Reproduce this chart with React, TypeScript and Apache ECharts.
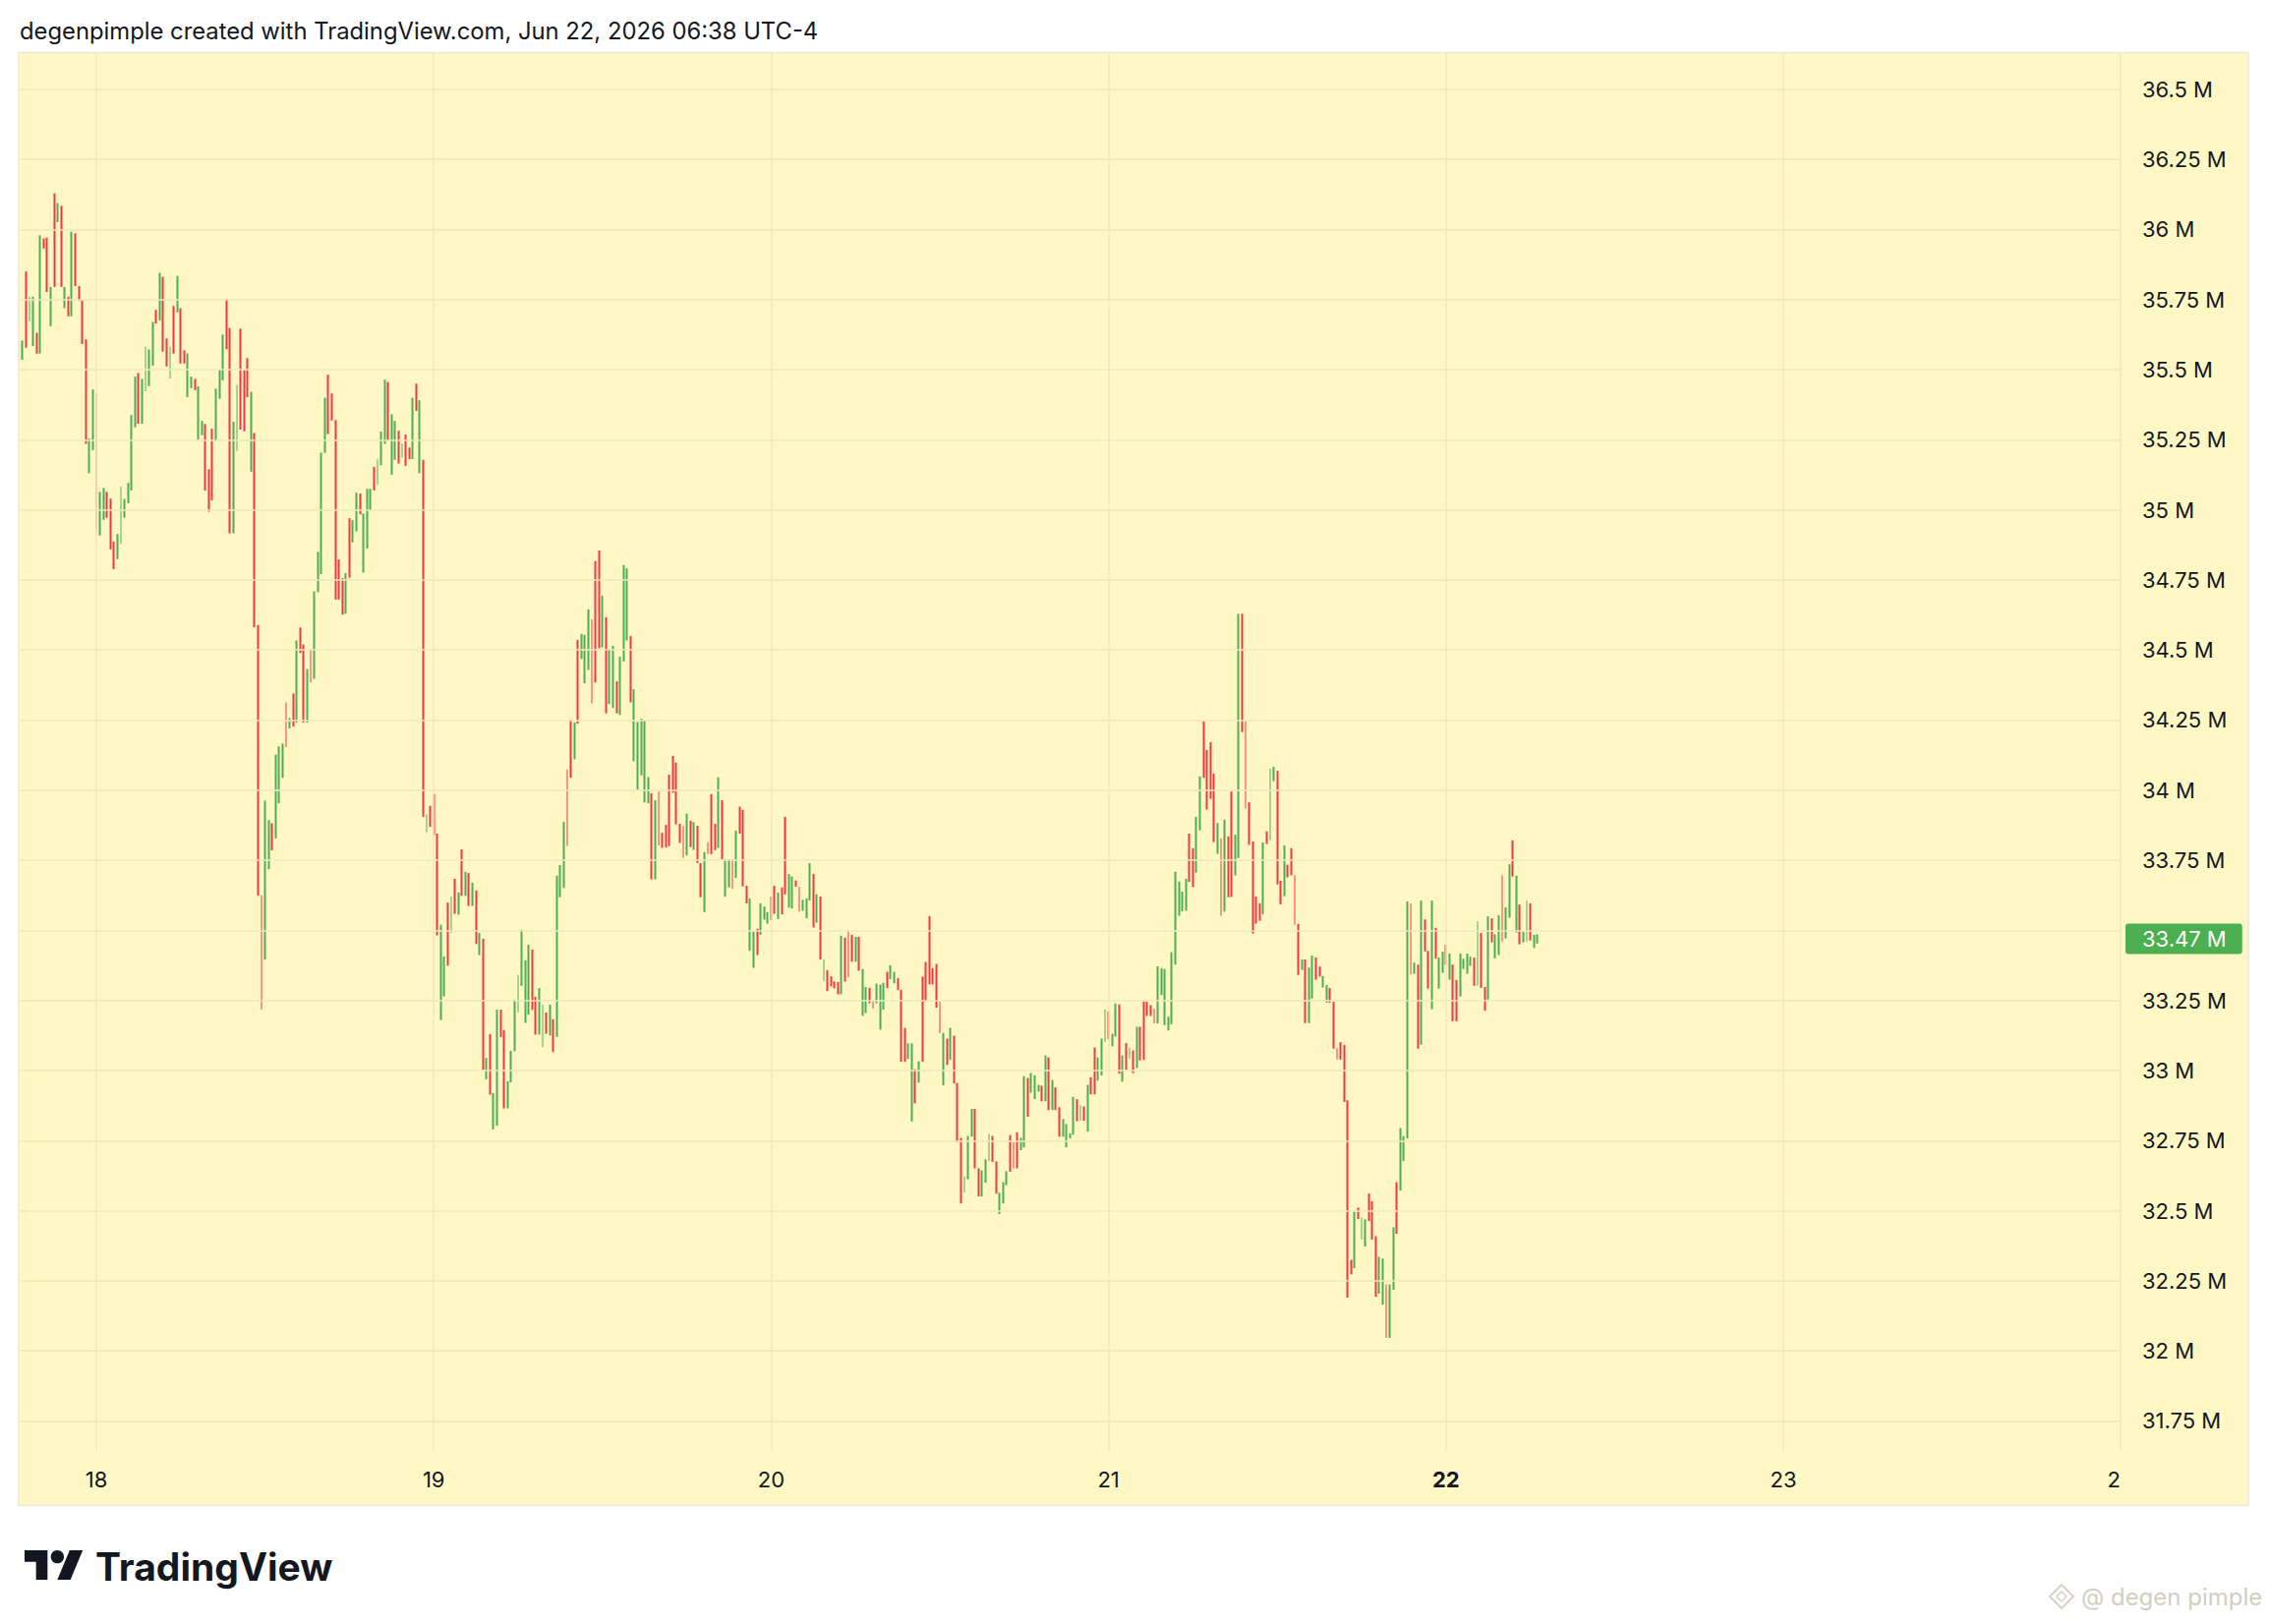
import React, { useEffect, useRef } from "react";
import * as echarts from "echarts";

// 15-minute bars, first bar at Jun 17 18:45 (UTC-4). Values in millions.
const firstBarMinuteOfDay = 18 * 60 + 45;
const barMinutes = 15;

const highs = [
  35.604, 35.850, 35.760, 35.760, 35.631, 35.979, 35.968, 35.971, 35.795, 36.129,
  36.094, 36.084, 35.795, 35.760, 35.992, 35.986, 35.798, 35.748, 35.608, 35.254,
  35.429, 35.418, 35.064, 35.078, 35.064, 35.040, 34.887, 34.914, 35.083, 35.039,
  35.096, 35.338, 35.475, 35.488, 35.467, 35.582, 35.572, 35.670, 35.713, 35.845,
  35.831, 35.611, 35.582, 35.727, 35.834, 35.719, 35.569, 35.558, 35.475, 35.467,
  35.440, 35.317, 35.306, 35.145, 35.289, 35.432, 35.499, 35.625, 35.751, 35.649,
  35.314, 35.446, 35.646, 35.499, 35.541, 35.421, 35.274, 34.589, 33.626, 33.963,
  33.893, 33.882, 34.127, 34.156, 34.166, 34.313, 34.257, 34.345, 34.534, 34.580,
  34.520, 34.432, 34.502, 34.709, 34.850, 35.204, 35.400, 35.482, 35.415, 35.320,
  34.823, 34.756, 34.774, 34.970, 34.963, 35.061, 35.058, 34.987, 35.075, 35.075,
  35.153, 35.180, 35.279, 35.464, 35.456, 35.341, 35.317, 35.282, 35.236, 35.268,
  35.222, 35.400, 35.450, 35.391, 35.178, 33.913, 33.944, 33.986, 33.845, 33.520,
  33.407, 33.599, 33.621, 33.684, 33.635, 33.789, 33.709, 33.704, 33.670, 33.642,
  33.491, 33.470, 33.045, 33.130, 32.920, 33.217, 33.217, 33.144, 32.962, 33.070,
  33.253, 33.341, 33.502, 33.393, 33.449, 33.432, 33.263, 33.294, 33.235, 33.207,
  33.235, 33.183, 33.695, 33.733, 33.887, 34.074, 34.251, 34.241, 34.536, 34.557,
  34.554, 34.645, 34.609, 34.817, 34.855, 34.694, 34.617, 34.503, 34.515, 34.388,
  34.476, 34.803, 34.792, 34.550, 34.360, 34.243, 34.255, 34.249, 34.047, 33.989,
  33.964, 33.995, 33.848, 33.876, 34.055, 34.122, 34.099, 33.880, 33.872, 33.916,
  33.891, 33.886, 33.873, 33.740, 33.779, 33.814, 33.986, 33.880, 34.046, 33.964,
  33.754, 33.754, 33.754, 33.856, 33.941, 33.930, 33.659, 33.614, 33.495, 33.506,
  33.596, 33.585, 33.565, 33.621, 33.659, 33.635, 33.653, 33.905, 33.701, 33.692,
  33.678, 33.656, 33.609, 33.614, 33.740, 33.701, 33.629, 33.621, 33.396, 33.358,
  33.336, 33.318, 33.316, 33.481, 33.474, 33.501, 33.484, 33.477, 33.477, 33.362,
  33.298, 33.295, 33.250, 33.310, 33.306, 33.313, 33.352, 33.375, 33.352, 33.330,
  33.288, 33.152, 33.097, 33.097, 33.005, 33.033, 33.335, 33.387, 33.551, 33.365,
  33.380, 33.246, 33.134, 33.114, 33.152, 33.124, 32.956, 32.760, 32.623, 32.767,
  32.863, 32.863, 32.651, 32.644, 32.683, 32.774, 32.767, 32.676, 32.564, 32.602,
  32.641, 32.770, 32.745, 32.780, 32.760, 32.980, 32.973, 32.991, 32.983, 32.949,
  32.946, 33.054, 33.047, 32.966, 32.940, 32.869, 32.827, 32.809, 32.776, 32.906,
  32.898, 32.876, 32.872, 32.949, 32.976, 33.082, 33.047, 33.114, 33.218, 33.211,
  33.131, 33.239, 33.236, 33.054, 33.098, 33.082, 33.072, 33.156, 33.156, 33.246,
  33.245, 33.233, 33.221, 33.372, 33.365, 33.362, 33.192, 33.422, 33.709, 33.674,
  33.638, 33.684, 33.845, 33.793, 33.905, 34.049, 34.245, 34.143, 34.171, 34.059,
  33.883, 33.828, 33.895, 33.835, 33.995, 33.841, 34.629, 34.629, 34.247, 33.957,
  33.817, 33.621, 33.596, 33.814, 33.853, 34.076, 34.083, 34.069, 33.677, 33.803,
  33.734, 33.793, 33.697, 33.523, 33.396, 33.396, 33.367, 33.410, 33.403, 33.371,
  33.337, 33.305, 33.294, 33.245, 33.080, 33.101, 33.091, 32.894, 32.325, 32.497,
  32.511, 32.476, 32.469, 32.561, 32.534, 32.409, 32.336, 32.329, 32.237, 32.237,
  32.441, 32.602, 32.795, 32.766, 33.603, 33.596, 33.385, 33.378, 33.606, 33.539,
  33.427, 33.606, 33.509, 33.403, 33.424, 33.449, 33.417, 33.378, 33.323, 33.417,
  33.399, 33.417, 33.406, 33.403, 33.532, 33.491, 33.298, 33.550, 33.543, 33.486,
  33.554, 33.697, 33.582, 33.736, 33.821, 33.695, 33.592, 33.495, 33.606, 33.596,
  33.484, 33.486,
];

const lows = [
  35.535, 35.578, 35.672, 35.584, 35.557, 35.557, 35.932, 35.777, 35.655, 35.795,
  36.026, 35.795, 35.719, 35.690, 35.690, 35.798, 35.745, 35.591, 35.235, 35.130,
  35.213, 34.923, 34.908, 34.964, 34.972, 34.859, 34.788, 34.824, 34.878, 34.972,
  35.023, 35.069, 35.294, 35.307, 35.307, 35.423, 35.441, 35.514, 35.664, 35.675,
  35.564, 35.511, 35.468, 35.557, 35.704, 35.522, 35.522, 35.402, 35.434, 35.427,
  35.248, 35.266, 35.069, 34.993, 35.034, 35.245, 35.396, 35.462, 35.573, 34.916,
  34.916, 35.210, 35.286, 35.280, 35.402, 35.136, 34.581, 33.624, 33.217, 33.396,
  33.718, 33.785, 33.828, 33.953, 34.044, 34.153, 34.220, 34.227, 34.241, 34.489,
  34.241, 34.241, 34.385, 34.397, 34.706, 34.771, 35.203, 35.270, 35.318, 34.680,
  34.680, 34.626, 34.629, 34.758, 34.884, 34.923, 34.984, 34.776, 34.862, 34.999,
  35.069, 35.089, 35.159, 35.235, 35.248, 35.125, 35.178, 35.165, 35.186, 35.157,
  35.181, 35.181, 35.353, 35.130, 33.905, 33.850, 33.869, 33.840, 33.482, 33.180,
  33.264, 33.374, 33.490, 33.559, 33.556, 33.623, 33.623, 33.587, 33.587, 33.451,
  33.412, 33.001, 32.969, 32.914, 32.790, 32.803, 33.119, 32.865, 32.865, 32.958,
  33.069, 33.208, 33.302, 33.170, 33.199, 33.216, 33.128, 33.128, 33.083, 33.131,
  33.125, 33.066, 33.120, 33.618, 33.651, 33.801, 34.044, 34.110, 34.237, 34.468,
  34.381, 34.429, 34.310, 34.384, 34.506, 34.509, 34.274, 34.307, 34.293, 34.274,
  34.268, 34.459, 34.534, 34.313, 34.103, 34.002, 34.053, 33.956, 33.953, 33.682,
  33.682, 33.803, 33.794, 33.795, 33.800, 33.991, 33.878, 33.812, 33.758, 33.767,
  33.797, 33.787, 33.740, 33.618, 33.565, 33.772, 33.772, 33.786, 33.794, 33.754,
  33.620, 33.653, 33.648, 33.687, 33.845, 33.657, 33.596, 33.427, 33.366, 33.412,
  33.484, 33.538, 33.524, 33.537, 33.559, 33.540, 33.557, 33.628, 33.581, 33.578,
  33.656, 33.567, 33.570, 33.543, 33.607, 33.510, 33.527, 33.396, 33.318, 33.283,
  33.300, 33.293, 33.272, 33.272, 33.317, 33.332, 33.388, 33.388, 33.356, 33.195,
  33.205, 33.240, 33.221, 33.240, 33.146, 33.217, 33.294, 33.326, 33.311, 33.287,
  33.031, 33.031, 33.041, 32.818, 32.883, 32.957, 33.031, 33.245, 33.307, 33.307,
  33.224, 33.133, 32.947, 33.020, 33.038, 32.954, 32.744, 32.526, 32.565, 32.612,
  32.764, 32.651, 32.551, 32.551, 32.600, 32.677, 32.674, 32.561, 32.488, 32.526,
  32.591, 32.639, 32.651, 32.651, 32.716, 32.725, 32.835, 32.921, 32.898, 32.925,
  32.890, 32.890, 32.859, 32.859, 32.859, 32.764, 32.764, 32.726, 32.758, 32.771,
  32.819, 32.821, 32.821, 32.782, 32.915, 32.915, 32.964, 32.983, 33.102, 33.111,
  33.086, 33.121, 32.989, 32.960, 33.002, 33.043, 32.991, 33.009, 33.036, 33.038,
  33.195, 33.195, 33.168, 33.168, 33.269, 33.162, 33.143, 33.165, 33.378, 33.552,
  33.568, 33.570, 33.673, 33.654, 33.706, 33.857, 34.044, 33.931, 33.969, 33.815,
  33.773, 33.552, 33.567, 33.618, 33.619, 33.696, 33.758, 34.207, 33.934, 33.805,
  33.489, 33.524, 33.534, 33.557, 33.808, 33.821, 34.032, 33.664, 33.593, 33.622,
  33.689, 33.696, 33.520, 33.341, 33.359, 33.169, 33.169, 33.257, 33.324, 33.335,
  33.296, 33.242, 33.242, 33.078, 33.039, 33.039, 32.888, 32.190, 32.273, 32.295,
  32.470, 32.397, 32.372, 32.463, 32.397, 32.193, 32.204, 32.165, 32.046, 32.046,
  32.218, 32.418, 32.572, 32.677, 32.758, 33.343, 33.345, 33.078, 33.092, 33.425,
  33.292, 33.219, 33.400, 33.292, 33.348, 33.377, 33.324, 33.176, 33.176, 33.264,
  33.362, 33.345, 33.373, 33.302, 33.302, 33.295, 33.214, 33.253, 33.457, 33.400,
  33.412, 33.460, 33.471, 33.545, 33.692, 33.492, 33.450, 33.457, 33.460, 33.464,
  33.437, 33.453,
];

// u = up bar (green), d = down bar (red)
const directions = [
  "uduududdud", "udududdddu", "uduuddduuu", "uuuduuuudu", "ddududduud",
  "uuddduuudd", "uudddudddu", "uduuududud", "duduuuuddd", "dduduuduuu",
  "duuuduudud", "dudududddu", "ududududud", "ududuudduu", "uuuuudduud",
  "uduuuddudu", "uuddduduud", "uuuduuuuud", "uddddddddu", "duddudddud",
  "uududdduud", "uuuddudduu", "dduuududud", "dddudddudu", "udduuuduud",
  "dduududddd", "ddududdduu", "udduuudduu", "uddduuduuu", "dududduuuu",
  "dududduuud", "uududududd", "ddduuuuuuu", "uudduudddd", "ududduuddd",
  "ddduduuddu", "dddduduudd", "uudddddddu", "duuddduudu", "uduuududud",
  "duduududdu", "uuududdudu", "uduududuud", "uu",
].join("");

// time-axis tick labels as shown (the last one, "24", is cut by the price scale)
const dayTickLabels = ["18", "19", "20", "21", "22", "23", "2"];
const boldDayLabel = "22";
const priceTicks = [
  31.75, 32, 32.25, 32.5, 32.75, 33, 33.25, 33.5, 33.75, 34,
  34.25, 34.5, 34.75, 35, 35.25, 35.5, 35.75, 36, 36.25, 36.5,
];
const lastPrice = 33.47;
const titleText = "degenpimple created with TradingView.com, Jun 22, 2026 06:38 UTC-4";
const watermarkText = "@ degen pimple";

const GREEN = "#4caf50";
const RED = "#f23645";
const BG = "#fff8c5";
const GRIDC = "#efe8bb";
const TEXT = "#131722";
const FONT = "Inter, 'Noto Sans', sans-serif";

export default function App() {
  const ref = useRef<HTMLDivElement>(null);

  useEffect(() => {
    const el = ref.current;
    if (!el) return;
    const chart = echarts.init(el, null, { renderer: "svg" });

    const plotLeft = 20;
    const plotTop = 54;
    const plotRight = 2158;
    const plotBottom = 1476;

    const candles = highs.map((h, i) => {
      const l = lows[i];
      const up = directions[i] === "u";
      return [i, up ? l : h, up ? h : l, l, h];
    });

    const barsPerDay = (24 * 60) / barMinutes;
    const firstDayIndex = (24 * 60 - firstBarMinuteOfDay) / barMinutes;

    // TradingView hides the scale labels that the last-price badge covers
    const priceLines = priceTicks.map((v) => ({
      yAxis: v,
      label: {
        show: Math.abs(v - lastPrice) > 0.1,
        position: "end",
        distance: 21,
        formatter: `${v} M`,
        color: TEXT,
        fontFamily: FONT,
        fontSize: 22,
      },
    }));

    const dayLines = dayTickLabels.map((d, k) => ({
      xAxis: firstDayIndex + k * barsPerDay,
      label: {
        position: "start",
        distance: 18,
        formatter: d,
        color: TEXT,
        fontFamily: FONT,
        fontSize: 22,
        fontWeight: d === boldDayLabel ? "bold" : "normal",
        offset: k === dayTickLabels.length - 1 ? [-7, 0] : [0, 0],
      },
    }));

    chart.setOption({
      animation: false,
      backgroundColor: "#ffffff",
      grid: {
        left: plotLeft,
        top: plotTop,
        width: plotRight - plotLeft,
        height: plotBottom - plotTop,
        containLabel: false,
      },
      xAxis: {
        type: "value",
        min: -0.81,
        max: 597.23,
        show: false,
      },
      yAxis: {
        type: "value",
        min: 31.643,
        max: 36.629,
        position: "right",
        show: false,
        scale: true,
      },
      graphic: [
        {
          type: "rect",
          z: -10,
          silent: true,
          shape: { x: 19, y: 53.5, width: 2268, height: 1478 },
          style: { fill: BG, stroke: "#ebe8da", lineWidth: 1.5 },
        },
        {
          type: "text",
          x: 20,
          y: 31,
          silent: true,
          style: {
            text: titleText,
            fill: TEXT,
            fontFamily: FONT,
            fontSize: 23.8,
            align: "left",
            verticalAlign: "middle",
          },
        },
        {
          type: "group",
          x: 25,
          y: 1570.3,
          scaleX: 1.667,
          scaleY: 1.667,
          silent: true,
          children: [
            {
              type: "polygon",
              shape: { points: [[0, 4], [14, 4], [14, 22], [7, 22], [7, 11], [0, 11]] },
              style: { fill: TEXT },
            },
            {
              type: "polygon",
              shape: { points: [[20, 22], [28, 22], [35.5, 4], [27.5, 4]] },
              style: { fill: TEXT },
            },
            {
              type: "circle",
              shape: { cx: 20, cy: 8, r: 4 },
              style: { fill: TEXT },
            },
          ],
        },
        {
          type: "text",
          x: 97,
          y: 1593,
          silent: true,
          style: {
            text: "TradingView",
            fill: TEXT,
            fontFamily: FONT,
            fontSize: 39,
            fontWeight: 700,
            align: "left",
            verticalAlign: "middle",
          },
        },
        {
          type: "group",
          x: 2097,
          y: 1624,
          silent: true,
          children: [
            {
              type: "polygon",
              shape: { points: [[0, -12], [12, 0], [0, 12], [-12, 0]] },
              style: { fill: "none", stroke: "#d6d3c3", lineWidth: 2 },
            },
            {
              type: "polygon",
              shape: { points: [[0, -5], [5, 0], [0, 5], [-5, 0]] },
              style: { fill: "none", stroke: "#d6d3c3", lineWidth: 1.5 },
            },
          ],
        },
        {
          type: "text",
          x: 2117,
          y: 1624,
          silent: true,
          style: {
            text: watermarkText,
            fill: "#d2cfbf",
            fontFamily: FONT,
            fontSize: 24,
            align: "left",
            verticalAlign: "middle",
          },
        },
      ],
      series: [
        {
          type: "line",
          data: [],
          z: 1,
          silent: true,
          showSymbol: false,
          markLine: {
            silent: true,
            animation: false,
            symbol: ["none", "none"],
            lineStyle: { color: GRIDC, width: 1.5, type: "solid" },
            emphasis: { disabled: true },
            data: [...priceLines, ...dayLines],
          },
        },
        {
          type: "candlestick",
          data: candles,
          z: 3,
          silent: true,
          large: false,
          barWidth: 2.4,
          encode: { x: 0, y: [1, 2, 3, 4] },
          itemStyle: {
            color: GREEN,
            color0: RED,
            borderColor: GREEN,
            borderColor0: RED,
            borderWidth: 0,
          },
        },
        {
          type: "line",
          data: [],
          z: 5,
          silent: true,
          showSymbol: false,
          markLine: {
            silent: true,
            animation: false,
            symbol: ["none", "none"],
            lineStyle: { color: "transparent", width: 0 },
            emphasis: { disabled: true },
            data: [
              {
                yAxis: lastPrice,
                label: {
                  show: true,
                  position: "end",
                  distance: 4,
                  formatter: `${lastPrice} M`,
                  color: "#ffffff",
                  backgroundColor: GREEN,
                  borderRadius: 3,
                  padding: [5, 16, 4, 17],
                  fontFamily: FONT,
                  fontSize: 22,
                },
              },
            ],
          },
        },
      ],
    });

    return () => {
      chart.dispose();
    };
  }, []);

  return (
    <div
      ref={ref}
      style={{
        position: "absolute",
        left: 0,
        top: 0,
        width: 2308,
        height: 1652,
        background: "#ffffff",
      }}
    />
  );
}
